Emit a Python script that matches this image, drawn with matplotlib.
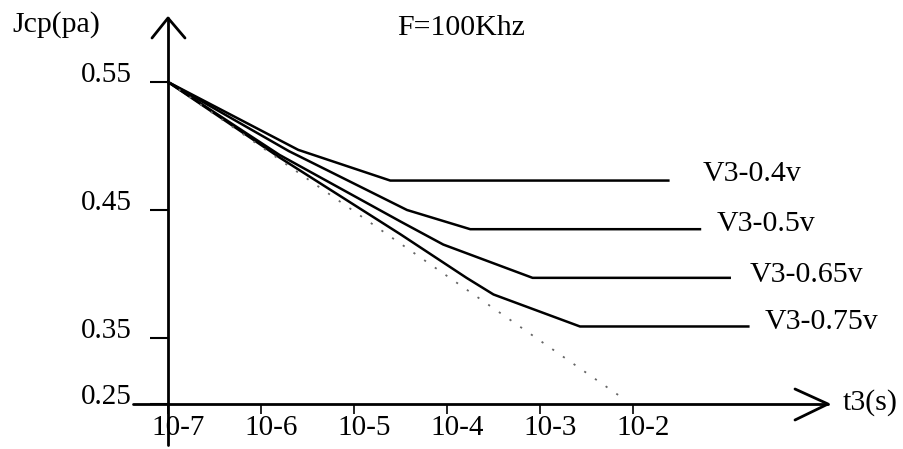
import matplotlib
matplotlib.use("Agg")
import matplotlib.pyplot as plt
from matplotlib.lines import Line2D
from matplotlib.transforms import ScaledTranslation

# ---------------- data (x = log10 t3, y = Jcp) ----------------
x_ticks = [-7, -6, -5, -4, -3, -2]
x_tick_labels = ["10-7", "10-6", "10-5", "10-4", "10-3", "10-2"]
y_tick_labels = ["0.55", "0.45", "0.35", "0.25"]

series_names = ["V3-0.4v", "V3-0.5v", "V3-0.65v", "V3-0.75v"]
x_04 = [-7.0, -5.60, -4.61, -1.62]
y_04 = [0.550, 0.497, 0.473, 0.473]
x_05 = [-7.0, -5.70, -4.43, -3.75, -1.28]
y_05 = [0.550, 0.496, 0.450, 0.435, 0.435]
x_065 = [-7.0, -5.80, -4.50, -4.04, -3.08, -0.96]
y_065 = [0.550, 0.493, 0.441, 0.423, 0.397, 0.397]
x_075 = [-7.0, -5.80, -4.50, -3.79, -3.50, -2.57, -0.76]
y_075 = [0.550, 0.491, 0.431, 0.397, 0.384, 0.359, 0.359]
x_ref = [-7.0, -2.09]
y_ref = [0.550, 0.302]

# ---------------- layout ----------------
W, H = 904, 449
plt.rcParams["font.family"] = ["Liberation Serif", "DejaVu Serif"]
fig = plt.figure(figsize=(W / 100, H / 100), dpi=100)

ox, oy = 168, 404      # origin of the drawn axes (pixels)
tx, ty = 828, 18       # arrow tips (pixels)
px_dec, px_unit = 93.0, 1280.0
ax = fig.add_axes([ox / W, 1 - oy / H, (tx - ox) / W, (oy - ty) / H])
ax.set_xlim(-7, -7 + (tx - ox) / px_dec)
y_bottom = 0.55 - (oy - 82) / px_unit
ax.set_ylim(y_bottom, 0.55 + (82 - ty) / px_unit)
for s in ax.spines.values():
    s.set_visible(False)
ax.patch.set_visible(False)

def fig_line(xs, ys, lw=2.0):
    fig.add_artist(Line2D([x / W for x in xs], [1 - y / H for y in ys],
                          color="black", lw=lw, transform=fig.transFigure,
                          solid_capstyle="round", solid_joinstyle="round"))

# axes lines with open arrow heads
fig_line([ox, ox], [445, ty])
fig_line([152, ox, 185], [38, ty, 38])
fig_line([133, tx], [oy, oy])
fig_line([795, tx, 795], [389, oy, 420])

# ticks
ax.set_yticks([0.55, 0.45, 0.35, y_bottom])
ax.set_yticklabels(y_tick_labels)
ax.tick_params(axis="y", direction="out", length=13, width=1.5, pad=13,
               labelsize=21, colors="black")
for lab in ax.get_yticklabels():
    lab.set_transform(lab.get_transform() + ScaledTranslation(0, 0.10, fig.dpi_scale_trans))

ax.set_xticks(x_ticks)
ax.set_xticklabels(x_tick_labels)
ax.tick_params(axis="x", direction="out", length=7, width=1.2, pad=1,
               labelsize=21, colors="black")
for lab in ax.get_xticklabels():
    lab.set_transform(lab.get_transform() + ScaledTranslation(0.10, 0, fig.dpi_scale_trans))

# curves
xs_all = [x_04, x_05, x_065, x_075]
ys_all = [y_04, y_05, y_065, y_075]
label_offsets = [(25, 5), (12, 4), (14, 2), (12, 3)]
for name, xs, ys, off in zip(series_names, xs_all, ys_all, label_offsets):
    ax.plot(xs, ys, color="black", lw=1.8, solid_joinstyle="round", clip_on=False)
    ax.annotate(name, xy=(xs[-1], ys[-1]), xytext=off, textcoords="offset points",
                ha="left", va="center", fontsize=21.5, annotation_clip=False)

ax.plot(x_ref, y_ref, color="#666666", lw=1.3, linestyle=(0, (1.2, 6)), clip_on=False)

# texts
fig.text(12 / W, 1 - 25 / H, "Jcp(pa)", ha="left", va="center", fontsize=21.5)
fig.text(397 / W, 1 - 28 / H, "F=100Khz", ha="left", va="center", fontsize=21.5)
fig.text(843 / W, 1 - 403 / H, "t3(s)", ha="left", va="center", fontsize=21.5)

fig.savefig("out.png", dpi=100, facecolor="white")
